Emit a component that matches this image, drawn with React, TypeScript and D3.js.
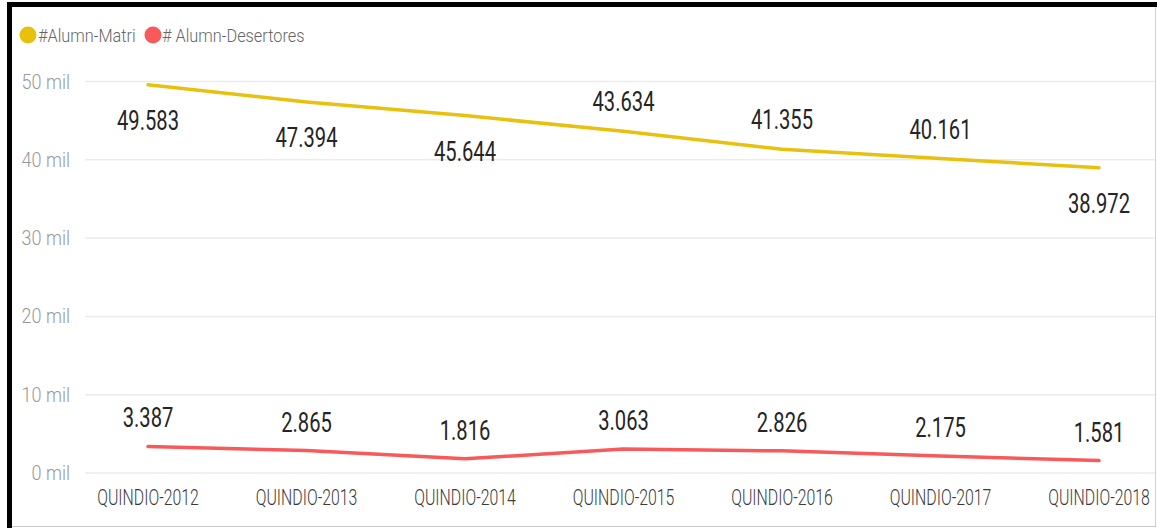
import React from 'react';
import * as d3 from 'd3';

const categories = [
  'QUINDIO-2012',
  'QUINDIO-2013',
  'QUINDIO-2014',
  'QUINDIO-2015',
  'QUINDIO-2016',
  'QUINDIO-2017',
  'QUINDIO-2018',
];
const matriculados = [49583, 47394, 45644, 43634, 41355, 40161, 38972];
const desertores = [3387, 2865, 1816, 3063, 2826, 2175, 1581];
// where the label of the yellow series sits relative to its point
const matriLabelSide = ['below', 'below', 'below', 'above', 'above', 'above', 'below'];
const yTicks = [0, 10000, 20000, 30000, 40000, 50000];

const W = 1157;
const H = 528;
const YELLOW = '#E8C10E';
const RED = '#F8595A';
const FONT = 'Roboto, "Noto Sans", sans-serif';

// Spanish-style thousands: 49.583
const fmt = (v: number) => d3.format(',')(v).replace(/,/g, '.');

const x = d3.scalePoint<string>().domain(categories).range([148, 1099]);
const y = d3.scaleLinear().domain([0, 50000]).range([473, 81.5]);

const line = d3
  .line<number>()
  .x((_, i) => x(categories[i]) as number)
  .y((d) => y(d));

// text squeezed horizontally, the screenshot looks condensed
const Squeezed: React.FC<{
  x: number;
  y: number;
  sx: number;
  size: number;
  fill: string;
  anchor?: string;
  weight?: number;
  children: React.ReactNode;
}> = ({ x, y, sx, size, fill, anchor = 'middle', weight = 400, children }) => (
  <text
    transform={`translate(${x},${y}) scale(${sx},1)`}
    fontSize={size}
    fill={fill}
    textAnchor={anchor}
    fontWeight={weight}
    fontFamily={FONT}
  >
    {children}
  </text>
);

export default function App() {
  return (
    <svg
      width={W}
      height={H}
      style={{ position: 'absolute', left: 0, top: 0, background: '#fff' }}
    >
      {/* frame */}
      <rect x={7} y={2} width={W - 7} height={5} fill="#000" />
      <rect x={7} y={2} width={5} height={H - 2} fill="#000" />
      <line x1={1155.5} x2={1155.5} y1={7} y2={526} stroke="#d0d0d0" />
      <line x1={12} x2={1156} y1={526.5} y2={526.5} stroke="#c8c8c8" />

      {/* legend */}
      <circle cx={28} cy={35} r={8.5} fill={YELLOW} />
      <Squeezed x={38} y={42} sx={0.86} size={19} fill="#666" anchor="start" weight={300}>
        #Alumn-Matri
      </Squeezed>
      <circle cx={153} cy={35} r={8.5} fill={RED} />
      <Squeezed x={162} y={42} sx={0.86} size={19} fill="#666" anchor="start" weight={300}>
        # Alumn-Desertores
      </Squeezed>

      {/* y grid + ticks */}
      {yTicks.map((t) => (
        <g key={t}>
          <line x1={85} x2={1155} y1={y(t)} y2={y(t)} stroke="#ebebeb" strokeWidth={1.5} />
          <Squeezed x={70} y={y(t) + 7} sx={0.9} size={20} fill="#999" anchor="end" weight={300}>
            {`${t / 1000} mil`}
          </Squeezed>
        </g>
      ))}

      {/* x labels */}
      {categories.map((c) => (
        <Squeezed key={c} x={x(c) as number} y={505} sx={0.72} size={22} fill="#3a3a3a" weight={300}>
          {c}
        </Squeezed>
      ))}

      {/* lines */}
      <path d={line(matriculados) || ''} fill="none" stroke={YELLOW} strokeWidth={3.5} strokeLinejoin="round" strokeLinecap="round" />
      <path d={line(desertores) || ''} fill="none" stroke={RED} strokeWidth={3.5} strokeLinejoin="round" strokeLinecap="round" />

      {/* data labels */}
      {matriculados.map((v, i) => (
        <Squeezed
          key={`m${i}`}
          x={x(categories[i]) as number}
          y={y(v) + (matriLabelSide[i] === 'below' ? 45 : -20)}
          sx={0.72}
          size={28}
          fill="#252525"
        >
          {fmt(v)}
        </Squeezed>
      ))}
      {desertores.map((v, i) => (
        <Squeezed
          key={`d${i}`}
          x={x(categories[i]) as number}
          y={y(v) - 19}
          sx={0.72}
          size={28}
          fill="#252525"
        >
          {fmt(v)}
        </Squeezed>
      ))}
    </svg>
  );
}
